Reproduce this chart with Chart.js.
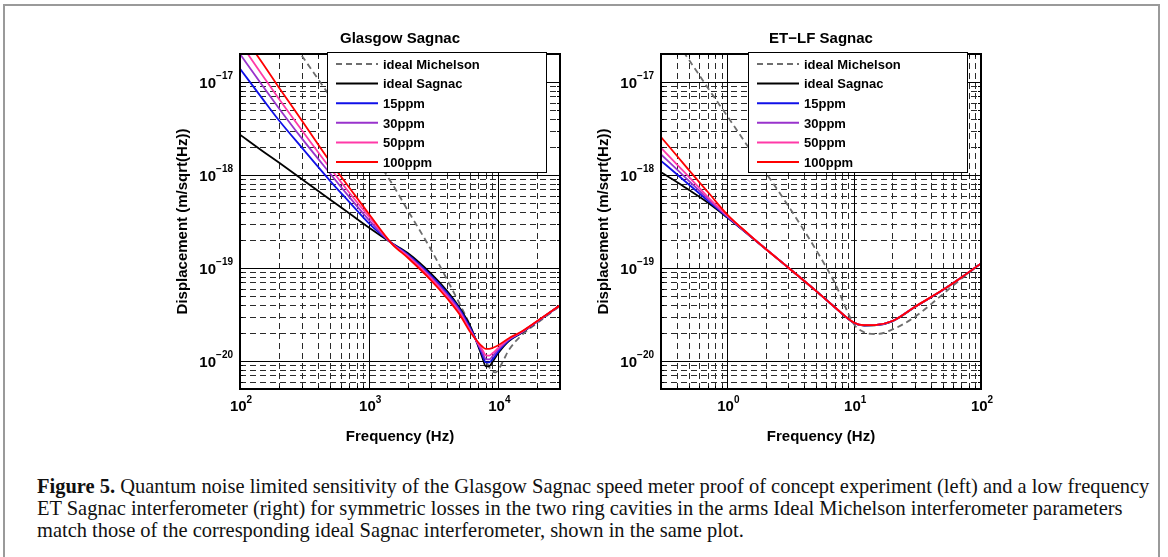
<!DOCTYPE html>
<html>
<head>
<meta charset="utf-8">
<script src="https://cdn.jsdelivr.net/npm/chart.js@4.4.1/dist/chart.umd.min.js"></script>
<style>
  html, body { margin: 0; padding: 0; background: #fff; }
  body { width: 1168px; height: 557px; position: relative; overflow: hidden; }
  #frame { position: absolute; left: 3px; top: 4px; width: 1157px; height: 600px; border: 2px solid #9a9a9a; box-sizing: border-box; }
  canvas { position: absolute; top: 0; }
  #chartL { left: 0; }
  #chartR { left: 580px; }
  #caption { position: absolute; left: 37px; top: 476px; font-family: "Liberation Serif", "Times New Roman", serif; font-size: 19px; line-height: 21.8px; color: #111; white-space: nowrap; }
  #caption span { display: inline-block; }
</style>
</head>
<body>
<div id="frame"></div>
<canvas id="chartL" width="580" height="460"></canvas>
<canvas id="chartR" width="588" height="460"></canvas>
<div id="caption">
  <div><span id="cap1"><b>Figure 5.</b> Quantum noise limited sensitivity of the Glasgow Sagnac speed meter proof of concept experiment (left) and a low frequency</span></div>
  <div><span>ET Sagnac interferometer (right) for symmetric losses in the two ring cavities in the arms Ideal Michelson interferometer parameters</span></div>
  <div><span>match those of the corresponding ideal Sagnac interferometer, shown in the same plot.</span></div>
</div>
<script>
// ---- data ----
const seriesLabels = ['ideal Michelson', 'ideal Sagnac', '15ppm', '30ppm', '50ppm', '100ppm'];

// Glasgow Sagnac (left panel)
const freqGlasgow = [100, 150, 200, 300, 500, 700, 1000, 1500, 2000, 3000, 4000, 5000, 6000, 7000, 7500, 8000, 8500, 9000, 10000, 12000, 15000, 20000, 30000];
const glasgowIdeal = [2.71e-18, 1.80e-18, 1.36e-18, 9.05e-19, 5.41e-19, 3.88e-19, 2.71e-19, 1.85e-19, 1.44e-19, 8.75e-20, 5.68e-20, 3.75e-20, 2.43e-20, 1.43e-20, 1.10e-20, 8.75e-21, 8.82e-21, 9.75e-21, 1.22e-20, 1.63e-20, 1.99e-20, 2.65e-20, 3.97e-20];
const glasgow15 = [1.39e-17, 6.55e-18, 3.88e-18, 1.98e-18, 8.61e-19, 5.14e-19, 3.00e-19, 1.85e-19, 1.39e-19, 8.33e-20, 5.41e-20, 3.63e-20, 2.32e-20, 1.48e-20, 1.17e-20, 9.67e-21, 9.67e-21, 1.04e-20, 1.27e-20, 1.66e-20, 2.01e-20, 2.66e-20, 3.97e-20];
const glasgow30 = [2.00e-17, 9.05e-18, 5.23e-18, 2.49e-18, 1.03e-18, 5.82e-19, 3.26e-19, 1.83e-19, 1.36e-19, 8.05e-20, 5.18e-20, 3.48e-20, 2.22e-20, 1.50e-20, 1.25e-20, 1.05e-20, 1.04e-20, 1.12e-20, 1.33e-20, 1.69e-20, 2.03e-20, 2.67e-20, 3.97e-20];
const glasgow50 = [2.64e-17, 1.17e-17, 6.60e-18, 3.05e-18, 1.18e-18, 6.49e-19, 3.54e-19, 1.83e-19, 1.33e-19, 7.79e-20, 4.97e-20, 3.34e-20, 2.17e-20, 1.53e-20, 1.33e-20, 1.15e-20, 1.14e-20, 1.21e-20, 1.38e-20, 1.72e-20, 2.04e-20, 2.68e-20, 3.97e-20];
const glasgow100 = [3.57e-17, 1.58e-17, 8.75e-18, 3.88e-18, 1.38e-18, 7.35e-19, 3.78e-19, 1.82e-19, 1.28e-19, 7.41e-20, 4.73e-20, 3.18e-20, 2.09e-20, 1.58e-20, 1.43e-20, 1.35e-20, 1.35e-20, 1.38e-20, 1.48e-20, 1.75e-20, 2.06e-20, 2.69e-20, 3.97e-20];
const freqGlasgowMich = [200, 300, 500, 700, 1000, 1500, 2000, 3000, 4000, 5000, 6000, 7000, 8000, 9000, 9500, 10000, 11000, 12000, 15000, 20000, 30000];
const glasgowMich = [4.32e-17, 1.93e-17, 6.94e-18, 3.51e-18, 1.87e-18, 8.12e-19, 4.11e-19, 1.59e-19, 7.54e-20, 4.15e-20, 2.47e-20, 1.47e-20, 9.92e-21, 7.73e-21, 7.54e-21, 8.06e-21, 1.03e-20, 1.30e-20, 1.87e-20, 2.56e-20, 3.91e-20];

// ET-LF Sagnac (right panel)
const freqET = [0.3, 0.4, 0.5, 0.7, 1, 1.5, 2, 3, 5, 7, 10, 12, 15, 20, 30, 50, 70, 100];
const etIdeal = [1.07e-18, 8.40e-19, 6.88e-19, 5.06e-19, 3.48e-19, 2.22e-19, 1.61e-19, 1.02e-19, 5.68e-20, 3.81e-20, 2.56e-20, 2.41e-20, 2.43e-20, 2.67e-20, 3.79e-20, 5.80e-20, 7.90e-20, 1.12e-19];
const et15 = [1.42e-18, 1.02e-18, 7.85e-19, 5.32e-19, 3.54e-19, 2.23e-19, 1.61e-19, 1.02e-19, 5.68e-20, 3.81e-20, 2.57e-20, 2.42e-20, 2.44e-20, 2.68e-20, 3.80e-20, 5.81e-20, 7.91e-20, 1.12e-19];
const et30 = [1.66e-18, 1.15e-18, 8.61e-19, 5.55e-19, 3.60e-19, 2.24e-19, 1.61e-19, 1.02e-19, 5.68e-20, 3.81e-20, 2.57e-20, 2.42e-20, 2.44e-20, 2.68e-20, 3.80e-20, 5.81e-20, 7.91e-20, 1.12e-19];
const et50 = [1.96e-18, 1.30e-18, 9.51e-19, 5.82e-19, 3.66e-19, 2.25e-19, 1.61e-19, 1.02e-19, 5.68e-20, 3.81e-20, 2.58e-20, 2.43e-20, 2.45e-20, 2.69e-20, 3.81e-20, 5.82e-20, 7.92e-20, 1.12e-19];
const et100 = [2.56e-18, 1.61e-18, 1.12e-18, 6.60e-19, 3.75e-19, 2.26e-19, 1.61e-19, 1.02e-19, 5.68e-20, 3.81e-20, 2.58e-20, 2.43e-20, 2.45e-20, 2.69e-20, 3.81e-20, 5.82e-20, 7.92e-20, 1.12e-19];
const etMich = [4.81e-17, 2.69e-17, 1.72e-17, 8.69e-18, 4.29e-18, 1.90e-18, 1.07e-18, 4.73e-19, 1.57e-19, 7.00e-20, 2.47e-20, 2.04e-20, 1.95e-20, 2.18e-20, 2.97e-20, 5.22e-20, 7.66e-20, 1.12e-19];

// axis ranges and labelled ticks
const xRangeGlasgow = [100, 30000];
const xRangeET = [0.3, 100];
const yRange = [5e-21, 2e-17];
const xTicksGlasgow = [1e2, 1e3, 1e4];
const xTicksET = [1e0, 1e1, 1e2];
const yTicks = [1e-20, 1e-19, 1e-18, 1e-17];

// ---- styling ----
const FONT = '"Liberation Sans", Arial, Helvetica, sans-serif';
const lineStyles = [
    { color: '#6e6e6e', dash: [6, 4], order: 5 },
    { color: '#000000', dash: [], order: 4 },
    { color: '#1010e8', dash: [], order: 3 },
    { color: '#9933cc', dash: [], order: 2 },
    { color: '#ff3aa8', dash: [], order: 1 },
    { color: '#ff0000', dash: [], order: 0 }
];

function pts(xs, ys) {
    return xs.map((x, i) => ({ x: x, y: ys[i] }));
}

function makeDatasets(curves) {
    return curves.map((c, i) => ({
        label: seriesLabels[i],
        data: pts(c[0], c[1]),
        borderColor: lineStyles[i].color,
        borderDash: lineStyles[i].dash,
        borderWidth: 1.8,
        pointRadius: 0,
        fill: false,
        cubicInterpolationMode: 'monotone',
        order: lineStyles[i].order
    }));
}

// decade & sub-decade values inside a range
function logValues(min, max, majors) {
    const out = [];
    for (let e = Math.floor(Math.log10(min)) - 1; e <= Math.ceil(Math.log10(max)); e++) {
        for (let m = 1; m <= 9; m++) {
            const v = m * Math.pow(10, e);
            if (v > min * 1.0001 && v < max * 0.9999 && ((m === 1) === majors)) out.push(v);
        }
    }
    return out;
}

function drawPower(ctx, exp, x, y, align) {
    ctx.font = 'bold 15px ' + FONT;
    const wb = ctx.measureText('10').width;
    const es = exp < 0 ? '\u2212' + (-exp) : String(exp);
    ctx.font = 'bold 10px ' + FONT;
    const we = ctx.measureText(es).width;
    const x0 = align === 'right' ? x - wb - we : x - (wb + we) / 2;
    ctx.textAlign = 'left';
    ctx.textBaseline = 'alphabetic';
    ctx.font = 'bold 15px ' + FONT;
    ctx.fillText('10', x0, y);
    ctx.font = 'bold 10px ' + FONT;
    ctx.fillText(es, x0 + wb, y - 8.3);
}

const matlabAxes = {
    id: 'matlabAxes',
    beforeDatasetsDraw(chart) {
        const { ctx, chartArea: a, scales: { x, y } } = chart;
        ctx.save();
        ctx.beginPath();
        ctx.rect(a.left, a.top, a.right - a.left, a.bottom - a.top);
        ctx.clip();
        // dashed minor grid
        ctx.strokeStyle = '#2a2a2a';
        ctx.lineWidth = 1;
        ctx.setLineDash([6, 4]);
        ctx.beginPath();
        logValues(x.min, x.max, false).forEach(v => {
            const px = Math.round(x.getPixelForValue(v)) + 0.5;
            ctx.moveTo(px, a.bottom); ctx.lineTo(px, a.top);
        });
        logValues(y.min, y.max, false).forEach(v => {
            const py = Math.round(y.getPixelForValue(v)) + 0.5;
            ctx.moveTo(a.left, py); ctx.lineTo(a.right, py);
        });
        ctx.stroke();
        // solid decade grid
        ctx.setLineDash([]);
        ctx.strokeStyle = '#000';
        ctx.beginPath();
        logValues(x.min, x.max, true).forEach(v => {
            const px = Math.round(x.getPixelForValue(v)) + 0.5;
            ctx.moveTo(px, a.bottom); ctx.lineTo(px, a.top);
        });
        logValues(y.min, y.max, true).forEach(v => {
            const py = Math.round(y.getPixelForValue(v)) + 0.5;
            ctx.moveTo(a.left, py); ctx.lineTo(a.right, py);
        });
        ctx.stroke();
        // inward tick marks on all four sides
        ctx.beginPath();
        [true, false].forEach(major => {
            const len = major ? 5 : 3;
            logValues(x.min, x.max, major).forEach(v => {
                const px = Math.round(x.getPixelForValue(v)) + 0.5;
                ctx.moveTo(px, a.bottom); ctx.lineTo(px, a.bottom - len);
                ctx.moveTo(px, a.top); ctx.lineTo(px, a.top + len);
            });
            logValues(y.min, y.max, major).forEach(v => {
                const py = Math.round(y.getPixelForValue(v)) + 0.5;
                ctx.moveTo(a.left, py); ctx.lineTo(a.left + len, py);
                ctx.moveTo(a.right, py); ctx.lineTo(a.right - len, py);
            });
        });
        ctx.stroke();
        ctx.restore();
    },
    afterDatasetsDraw(chart, args, opts) {
        const { ctx, chartArea: a, scales: { x, y } } = chart;
        ctx.save();
        // axes box
        ctx.strokeStyle = '#000';
        ctx.lineWidth = 2;
        ctx.strokeRect(a.left, a.top, a.right - a.left, a.bottom - a.top);
        ctx.fillStyle = '#000';
        // tick labels
        opts.yTicks.forEach(v => {
            drawPower(ctx, Math.round(Math.log10(v)), a.left - 7, y.getPixelForValue(v) + 5.6, 'right');
        });
        opts.xTicks.forEach(v => {
            drawPower(ctx, Math.round(Math.log10(v)), x.getPixelForValue(v) + 1, a.bottom + 22, 'center');
        });
        // titles
        const cx = (a.left + a.right) / 2;
        ctx.font = 'bold 15px ' + FONT;
        ctx.textAlign = 'center';
        ctx.textBaseline = 'alphabetic';
        ctx.fillText(opts.title, cx, a.top - 11.5);
        ctx.fillText(opts.xLabel, cx, a.bottom + 52);
        ctx.save();
        ctx.translate(a.left - 53, (a.top + a.bottom) / 2);
        ctx.rotate(-Math.PI / 2);
        ctx.fillText(opts.yLabel, 0, 0);
        ctx.restore();
        // legend box
        const lx = a.left + 87, ly = a.top - 2, lw = 219, lh = 120;
        ctx.fillStyle = '#fff';
        ctx.fillRect(lx, ly, lw, lh);
        ctx.strokeStyle = '#000';
        ctx.lineWidth = 1;
        ctx.strokeRect(lx + 0.5, ly + 0.5, lw, lh);
        ctx.font = 'bold 13px ' + FONT;
        ctx.textAlign = 'left';
        chart.data.datasets.forEach((ds, i) => {
            const ry = ly + 12 + i * 19.6;
            ctx.strokeStyle = ds.borderColor;
            ctx.lineWidth = 2;
            ctx.setLineDash(ds.borderDash || []);
            ctx.beginPath();
            ctx.moveTo(lx + 9, ry);
            ctx.lineTo(lx + 51, ry);
            ctx.stroke();
            ctx.setLineDash([]);
            ctx.fillStyle = '#000';
            ctx.fillText(ds.label, lx + 56, ry + 4.8);
        });
        ctx.restore();
    }
};

function makeChart(id, curves, xRange, padding, opts) {
    return new Chart(document.getElementById(id), {
        type: 'line',
        data: { datasets: makeDatasets(curves) },
        options: {
            responsive: false,
            animation: false,
            devicePixelRatio: 1,
            layout: { padding: padding },
            scales: {
                x: { type: 'logarithmic', min: xRange[0], max: xRange[1], display: false },
                y: { type: 'logarithmic', min: yRange[0], max: yRange[1], display: false }
            },
            plugins: {
                legend: { display: false },
                tooltip: { enabled: false },
                matlabAxes: opts
            }
        },
        plugins: [matlabAxes]
    });
}

makeChart('chartL', [
    [freqGlasgowMich, glasgowMich],
    [freqGlasgow, glasgowIdeal],
    [freqGlasgow, glasgow15],
    [freqGlasgow, glasgow30],
    [freqGlasgow, glasgow50],
    [freqGlasgow, glasgow100]
], xRangeGlasgow, { left: 240, top: 54, right: 20, bottom: 71 }, {
    title: 'Glasgow Sagnac', xLabel: 'Frequency (Hz)', yLabel: 'Displacement (m/sqrt(Hz))',
    xTicks: xTicksGlasgow, yTicks: yTicks
});

makeChart('chartR', [
    [freqET, etMich],
    [freqET, etIdeal],
    [freqET, et15],
    [freqET, et30],
    [freqET, et50],
    [freqET, et100]
], xRangeET, { left: 81, top: 54, right: 187, bottom: 71 }, {
    title: 'ET\u2212LF Sagnac', xLabel: 'Frequency (Hz)', yLabel: 'Displacement (m/sqrt(Hz))',
    xTicks: xTicksET, yTicks: yTicks
});

// stretch the caption font so the first line spans the same width as the original
const cap1 = document.getElementById('cap1');
const w1 = cap1.getBoundingClientRect().width;
document.getElementById('caption').style.fontSize = (19 * 1113 / w1).toFixed(2) + 'px';
</script>
</body>
</html>
